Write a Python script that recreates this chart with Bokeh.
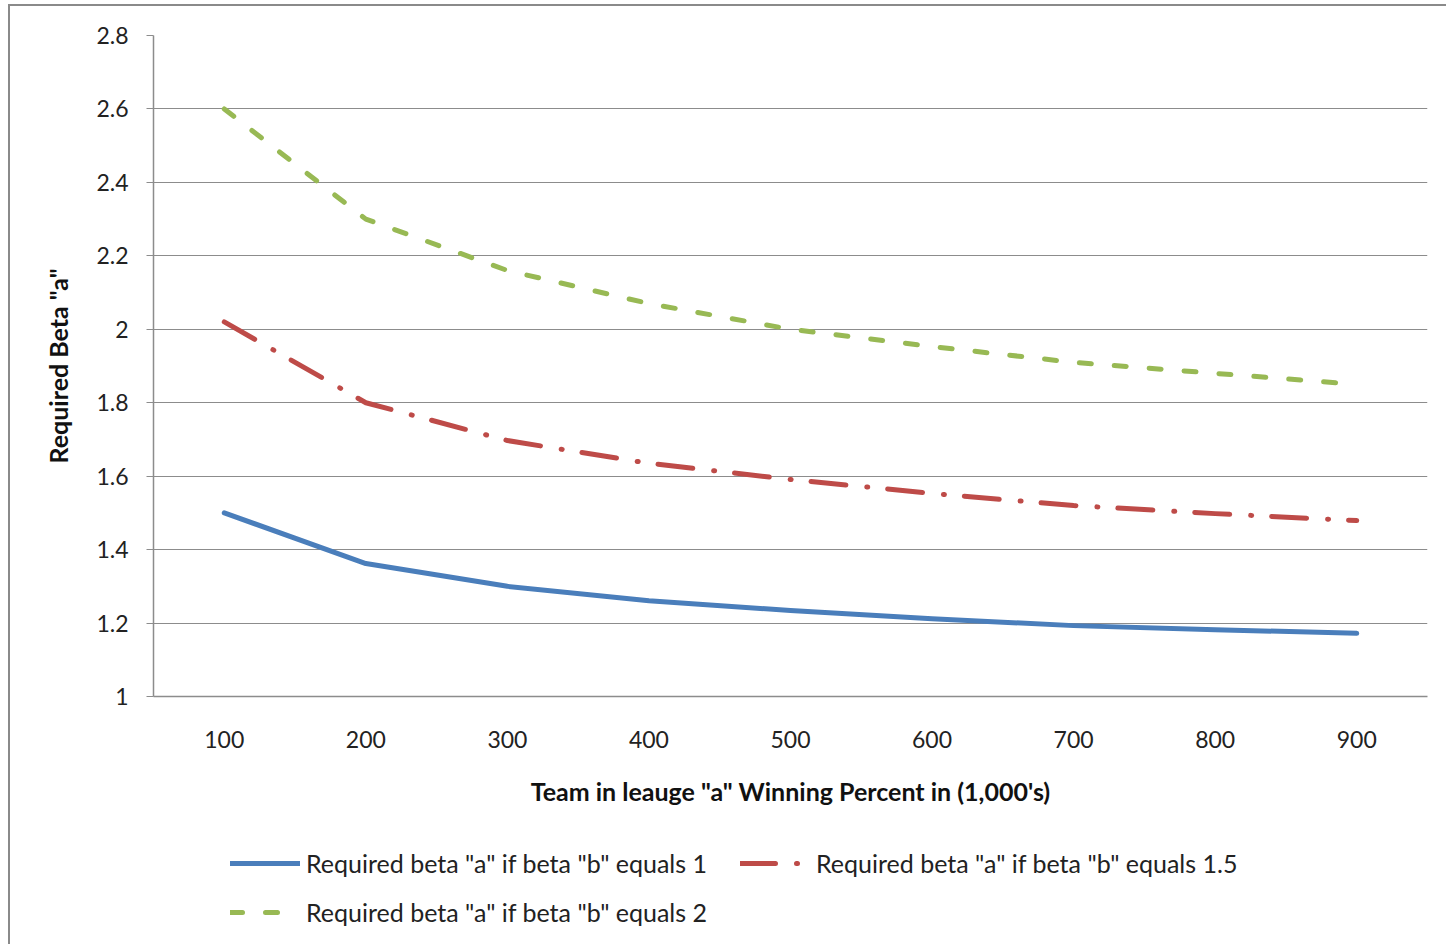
from bokeh.plotting import figure
from bokeh.models import Legend, LegendItem, FixedTicker, ColumnDataSource
from bokeh.layouts import column
from bokeh.embed import file_html
from bokeh.resources import INLINE

categories = ["100", "200", "300", "400", "500", "600", "700", "800", "900"]
beta_b_1 = [1.50, 1.362, 1.30, 1.261, 1.234, 1.212, 1.193, 1.182, 1.172]
beta_b_15 = [2.02, 1.80, 1.697, 1.635, 1.591, 1.553, 1.52, 1.498, 1.479]
beta_b_2 = [2.60, 2.30, 2.16, 2.07, 2.00, 1.953, 1.91, 1.88, 1.85]
y_ticks = [1.0, 1.2, 1.4, 1.6, 1.8, 2.0, 2.2, 2.4, 2.6, 2.8]
series_names = ['Required beta "a" if beta "b" equals 1',
                'Required beta "a" if beta "b" equals 1.5',
                'Required beta "a" if beta "b" equals 2']
colors = ["#4a7ebb", "#be4b48", "#98b954"]
dashes = ["solid", "35 21 1 20", "12 23"]

FONT = "Lato"

p = figure(width=1436, height=814, x_range=categories, y_range=(1.0, 2.8),
           output_backend="svg", toolbar_location=None,
           min_border_left=143, min_border_right=19, min_border_top=29,
           min_border_bottom=124)
p.outline_line_color = None
p.background_fill_color = "white"
p.border_fill_color = "white"

src = ColumnDataSource(dict(x=categories, a=beta_b_1, b=beta_b_15, c=beta_b_2))
for col, c, d in zip(["a", "b", "c"], colors, dashes):
    p.line("x", col, source=src, line_color=c, line_width=5, line_cap="round",
           line_join="round", line_dash=d)

p.xgrid.grid_line_color = None
p.ygrid.grid_line_color = "#8c8c8c"
p.ygrid.grid_line_width = 1
p.yaxis.ticker = FixedTicker(ticks=y_ticks)
p.yaxis.major_label_overrides = {1.0: "1", 2.0: "2"}

for ax in (p.xaxis, p.yaxis):
    ax.axis_line_color = "#8c8c8c"
    ax.axis_line_width = 1.5
    ax.major_label_text_font = FONT
    ax.major_label_text_font_size = "23px"
    ax.major_label_text_color = "#222222"
    ax.axis_label_text_font = FONT
    ax.axis_label_text_font_size = "25px"
    ax.axis_label_text_font_style = "bold"
    ax.axis_label_text_color = "#111111"
    ax.minor_tick_line_color = None

p.yaxis.major_tick_line_color = "#8c8c8c"
p.yaxis.major_tick_out = 7
p.yaxis.major_tick_in = 0
p.yaxis.major_label_standoff = 18
p.yaxis.axis_label = 'Required Beta "a"'
p.yaxis.axis_label_standoff = 20

p.xaxis.major_tick_line_color = None
p.xaxis.major_label_standoff = 28
p.xaxis.axis_label = 'Team in leauge "a" Winning Percent in (1,000\'s)'
p.xaxis.axis_label_standoff = 25

# legend area (separate canvas so the legend is not clipped by the plot frame)
lf = figure(width=1436, height=124, x_range=(0, 1), y_range=(0, 1),
            output_backend="svg", toolbar_location=None,
            x_axis_location=None, y_axis_location=None, min_border=0)
lf.outline_line_color = None
lf.grid.grid_line_color = None
lf.border_fill_color = "white"
nan = float("nan")
proxies = [lf.line(x=[nan], y=[nan], line_color=c, line_width=5, line_cap="round",
                   line_dash=d)
           for c, d in zip(colors, dashes)]

legend = Legend(items=[LegendItem(label=n, renderers=[r]) for n, r in zip(series_names, proxies)],
                orientation="horizontal", ncols=2, location=(77, 17))
legend.label_text_font = FONT
legend.label_text_font_size = "25px"
legend.label_text_color = "#222222"
legend.glyph_width = 70
legend.glyph_height = 24
legend.label_height = 24
legend.label_width = 415
legend.label_standoff = 6
legend.spacing = 19
legend.padding = 0
legend.margin = 0
legend.border_line_color = None
legend.background_fill_alpha = 0
lf.add_layout(legend, "center")

layout = column(p, lf, spacing=0)
layout.styles = {"margin-left": "8px", "margin-top": "4px",
                 "border-left": "2px solid #8a8a8a", "border-top": "2px solid #8a8a8a"}

open("out.html", "w").write(file_html(layout, INLINE))
